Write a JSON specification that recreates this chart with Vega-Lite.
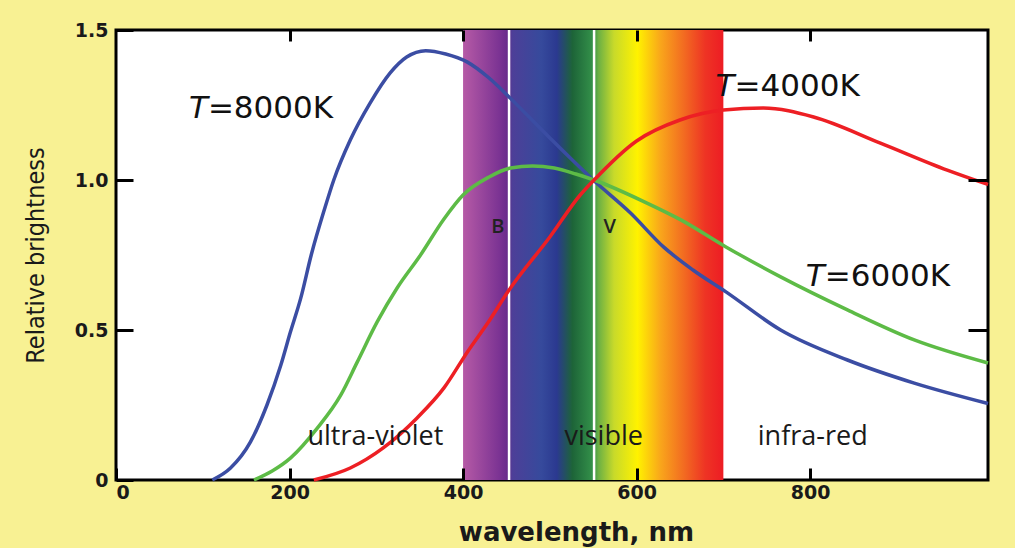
{
  "$schema": "https://vega.github.io/schema/vega-lite/v6.json",
  "width": 872,
  "height": 450,
  "autosize": {"type": "none"},
  "padding": {"left": 116, "top": 30, "right": 27, "bottom": 68},
  "background": "#f8f193",
  "config": {
    "view": {"fill": "white", "stroke": "black", "strokeWidth": 3},
    "axis": {
      "grid": false,
      "domain": false,
      "ticks": true,
      "tickColor": "black",
      "tickWidth": 3,
      "labelColor": "#1a1a1a",
      "labelFont": "DejaVu Sans",
      "labelFontWeight": "bold",
      "labelFontSize": 19,
      "titleColor": "#1a1a1a"
    }
  },
  "datasets": {
    "curves": [
      {"series": "8000K", "nm": 111, "val": 0},
      {"series": "8000K", "nm": 132, "val": 0.04},
      {"series": "8000K", "nm": 155, "val": 0.127},
      {"series": "8000K", "nm": 174, "val": 0.25},
      {"series": "8000K", "nm": 190, "val": 0.383},
      {"series": "8000K", "nm": 201, "val": 0.493},
      {"series": "8000K", "nm": 213, "val": 0.607},
      {"series": "8000K", "nm": 225, "val": 0.75},
      {"series": "8000K", "nm": 240, "val": 0.9},
      {"series": "8000K", "nm": 251, "val": 1.0},
      {"series": "8000K", "nm": 270, "val": 1.133},
      {"series": "8000K", "nm": 293, "val": 1.257},
      {"series": "8000K", "nm": 316, "val": 1.357},
      {"series": "8000K", "nm": 335, "val": 1.41},
      {"series": "8000K", "nm": 357, "val": 1.431},
      {"series": "8000K", "nm": 380, "val": 1.42},
      {"series": "8000K", "nm": 405, "val": 1.393},
      {"series": "8000K", "nm": 430, "val": 1.34},
      {"series": "8000K", "nm": 453, "val": 1.277},
      {"series": "8000K", "nm": 500, "val": 1.14},
      {"series": "8000K", "nm": 550, "val": 1.0},
      {"series": "8000K", "nm": 593, "val": 0.89},
      {"series": "8000K", "nm": 631, "val": 0.777},
      {"series": "8000K", "nm": 665, "val": 0.7},
      {"series": "8000K", "nm": 703, "val": 0.627},
      {"series": "8000K", "nm": 766, "val": 0.5},
      {"series": "8000K", "nm": 843, "val": 0.4},
      {"series": "8000K", "nm": 920, "val": 0.323},
      {"series": "8000K", "nm": 1005, "val": 0.255},
      {"series": "6000K", "nm": 159, "val": 0},
      {"series": "6000K", "nm": 180, "val": 0.03},
      {"series": "6000K", "nm": 201, "val": 0.073},
      {"series": "6000K", "nm": 232, "val": 0.173},
      {"series": "6000K", "nm": 259, "val": 0.283},
      {"series": "6000K", "nm": 278, "val": 0.393},
      {"series": "6000K", "nm": 301, "val": 0.527},
      {"series": "6000K", "nm": 324, "val": 0.64},
      {"series": "6000K", "nm": 351, "val": 0.75},
      {"series": "6000K", "nm": 378, "val": 0.87},
      {"series": "6000K", "nm": 400, "val": 0.95},
      {"series": "6000K", "nm": 430, "val": 1.01},
      {"series": "6000K", "nm": 455, "val": 1.04},
      {"series": "6000K", "nm": 480, "val": 1.047},
      {"series": "6000K", "nm": 505, "val": 1.04},
      {"series": "6000K", "nm": 530, "val": 1.02},
      {"series": "6000K", "nm": 551, "val": 1.0},
      {"series": "6000K", "nm": 612, "val": 0.923},
      {"series": "6000K", "nm": 651, "val": 0.867},
      {"series": "6000K", "nm": 703, "val": 0.777},
      {"series": "6000K", "nm": 766, "val": 0.677},
      {"series": "6000K", "nm": 843, "val": 0.567},
      {"series": "6000K", "nm": 920, "val": 0.467},
      {"series": "6000K", "nm": 1005, "val": 0.39},
      {"series": "4000K", "nm": 228, "val": 0},
      {"series": "4000K", "nm": 270, "val": 0.04},
      {"series": "4000K", "nm": 308, "val": 0.107},
      {"series": "4000K", "nm": 347, "val": 0.207},
      {"series": "4000K", "nm": 378, "val": 0.307},
      {"series": "4000K", "nm": 405, "val": 0.427},
      {"series": "4000K", "nm": 430, "val": 0.53},
      {"series": "4000K", "nm": 453, "val": 0.633},
      {"series": "4000K", "nm": 500, "val": 0.81},
      {"series": "4000K", "nm": 535, "val": 0.95},
      {"series": "4000K", "nm": 551, "val": 1.0},
      {"series": "4000K", "nm": 600, "val": 1.13},
      {"series": "4000K", "nm": 650, "val": 1.2},
      {"series": "4000K", "nm": 700, "val": 1.233},
      {"series": "4000K", "nm": 746, "val": 1.24},
      {"series": "4000K", "nm": 804, "val": 1.21},
      {"series": "4000K", "nm": 881, "val": 1.123},
      {"series": "4000K", "nm": 958, "val": 1.033},
      {"series": "4000K", "nm": 1005, "val": 0.985}
    ]
  },
  "layer": [
    {
      "data": {"values": [{"lo": 400, "hi": 700}]},
      "mark": {
        "type": "rect",
        "fill": {
          "gradient": "linear", "x1": 0, "y1": 0, "x2": 1, "y2": 0,
          "stops": [
            {"offset": 0, "color": "#b65aa6"},
            {"offset": 0.14, "color": "#7b3393"},
            {"offset": 0.17, "color": "#6a2c8c"},
            {"offset": 0.19, "color": "#4d3f98"},
            {"offset": 0.3, "color": "#364a9c"},
            {"offset": 0.36, "color": "#2b3990"},
            {"offset": 0.42, "color": "#1d6438"},
            {"offset": 0.5, "color": "#34924a"},
            {"offset": 0.52, "color": "#6bb044"},
            {"offset": 0.58, "color": "#c8da2a"},
            {"offset": 0.67, "color": "#fff200"},
            {"offset": 0.76, "color": "#f9a51b"},
            {"offset": 0.85, "color": "#f26a21"},
            {"offset": 0.93, "color": "#ee3424"},
            {"offset": 1, "color": "#ed1c24"}
          ]
        }
      },
      "encoding": {
        "x": {
          "field": "lo", "type": "quantitative",
          "scale": {"domain": [0, 1005], "nice": false, "zero": false},
          "axis": {
            "orient": "bottom",
            "values": [0, 200, 400, 600, 800],
            "format": "d",
            "ticks": true,
            "zindex": 2,
            "offset": -12,
            "tickSize": 12,
            "labelPadding": 3,
            "title": "wavelength, nm",
            "titleFont": "DejaVu Sans",
            "titleFontWeight": "bold",
            "titleFontSize": 26,
            "titleX": 460,
            "titleY": 64,
            "titleBaseline": "middle"
          }
        },
        "x2": {"field": "hi"}
      }
    },
    {
      "data": {"values": [{"w": 453}, {"w": 551}]},
      "mark": {"type": "rule", "color": "white", "strokeWidth": 2.5},
      "encoding": {
        "x": {
          "field": "w", "type": "quantitative",
          "axis": {
            "orient": "top",
            "values": [200, 400, 600, 800],
            "labels": false,
            "ticks": true,
            "zindex": 2,
            "offset": -11,
            "tickSize": 11,
            "title": null
          }
        }
      }
    },
    {
      "data": {"name": "curves"},
      "mark": {"type": "line", "strokeWidth": 3.5, "interpolate": "monotone"},
      "encoding": {
        "x": {"field": "nm", "type": "quantitative", "axis": null},
        "y": {
          "field": "val", "type": "quantitative",
          "scale": {"domain": [0, 1.5], "nice": false},
          "axis": {
            "orient": "left",
            "values": [0, 0.5, 1.0, 1.5],
            "labelExpr": "datum.value == 0 ? '0' : format(datum.value, '.1f')",
            "ticks": true,
            "zindex": 2,
            "offset": -17,
            "tickSize": 17,
            "labelPadding": 8,
            "title": "Relative brightness",
            "titleFont": "DejaVu Sans Condensed, Liberation Sans Narrow, Roboto Condensed, sans-serif",
            "titleFontWeight": "normal",
            "titleFontSize": 25,
            "titleX": -98,
            "titleY": 225,
            "titleAngle": -90,
            "titleBaseline": "middle"
          }
        },
        "color": {
          "field": "series", "type": "nominal",
          "scale": {"domain": ["8000K", "6000K", "4000K"], "range": ["#3b4da3", "#5dbb46", "#ed1f24"]},
          "legend": null
        },
        "detail": {"field": "series"}
      }
    },
    {
      "data": {"values": [
        {"label": "ultra-violet", "nm": 299, "val": 0.143},
        {"label": "visible", "nm": 562, "val": 0.143},
        {"label": "infra-red", "nm": 803, "val": 0.143}
      ]},
      "mark": {"type": "text", "font": "Open Sans", "fontSize": 27, "fontWeight": 500, "color": "#1a1a1a", "baseline": "middle", "align": "center"},
      "encoding": {
        "x": {"field": "nm", "type": "quantitative", "axis": null},
        "y": {
          "field": "val", "type": "quantitative",
          "axis": {
            "orient": "right",
            "values": [0.5, 1.0],
            "labels": false,
            "ticks": true,
            "zindex": 2,
            "offset": -20,
            "tickSize": 20,
            "title": null
          }
        },
        "text": {"field": "label"}
      }
    },
    {
      "data": {"values": [
        {"label": "B", "nm": 440, "val": 0.843},
        {"label": "V", "nm": 569, "val": 0.843}
      ]},
      "mark": {"type": "text", "font": "Open Sans", "fontSize": 20, "fontWeight": 600, "color": "#222222", "baseline": "middle", "align": "center"},
      "encoding": {
        "x": {"field": "nm", "type": "quantitative", "axis": null},
        "y": {"field": "val", "type": "quantitative", "axis": null},
        "text": {"field": "label"}
      }
    },
    {
      "data": {"values": [
        {"t": "T", "rest": "=8000K", "nm": 84, "val": 1.238},
        {"t": "T", "rest": "=4000K", "nm": 691, "val": 1.31},
        {"t": "T", "rest": "=6000K", "nm": 795, "val": 0.678}
      ]},
      "layer": [
        {
          "mark": {"type": "text", "font": "DejaVu Sans", "fontStyle": "oblique", "fontSize": 31, "color": "#111111", "baseline": "middle", "align": "left"},
          "encoding": {
            "x": {"field": "nm", "type": "quantitative", "axis": null},
            "y": {"field": "val", "type": "quantitative", "axis": null},
            "text": {"field": "t"}
          }
        },
        {
          "mark": {"type": "text", "font": "DejaVu Sans", "fontSize": 31, "color": "#111111", "baseline": "middle", "align": "left", "dx": 19},
          "encoding": {
            "x": {"field": "nm", "type": "quantitative", "axis": null},
            "y": {"field": "val", "type": "quantitative", "axis": null},
            "text": {"field": "rest"}
          }
        }
      ]
    }
  ]
}
